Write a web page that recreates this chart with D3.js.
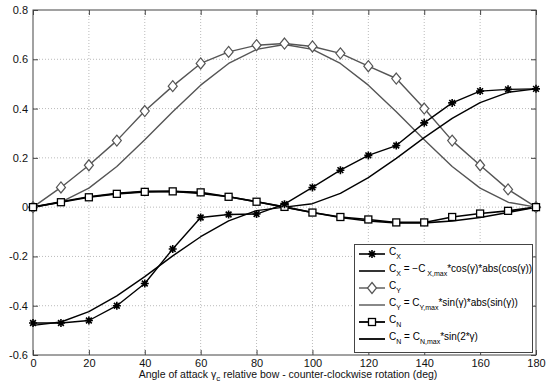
<!DOCTYPE html>
<html>
<head>
<meta charset="utf-8">
<script src="https://cdn.jsdelivr.net/npm/d3@7"></script>
<style>
  body { margin: 0; background: #fff; }
  text { font-family: "Liberation Sans", Arial, sans-serif; fill: #111; }
</style>
</head>
<body>
<div id="chart"></div>
<script>
var angles = [0, 10, 20, 30, 40, 50, 60, 70, 80, 90, 100, 110, 120, 130, 140, 150, 160, 170, 180];

var cx_meas = [-0.47, -0.47, -0.46, -0.40, -0.31, -0.17, -0.042, -0.03, -0.028, 0.012, 0.08, 0.15, 0.21, 0.25, 0.342, 0.423, 0.471, 0.478, 0.48];
var cx_fit  = [-0.48, -0.466, -0.424, -0.36, -0.282, -0.198, -0.12, -0.056, -0.014, 0, 0.014, 0.056, 0.12, 0.198, 0.282, 0.36, 0.424, 0.466, 0.48];
var cy_meas = [0, 0.08, 0.17, 0.27, 0.39, 0.491, 0.583, 0.63, 0.657, 0.664, 0.652, 0.624, 0.572, 0.522, 0.40, 0.27, 0.17, 0.072, 0];
var cy_fit  = [0, 0.02, 0.077, 0.165, 0.273, 0.387, 0.495, 0.583, 0.64, 0.66, 0.64, 0.583, 0.495, 0.387, 0.273, 0.165, 0.077, 0.02, 0];
var cn_meas = [0, 0.02, 0.04, 0.054, 0.062, 0.064, 0.06, 0.042, 0.022, 0.001, -0.022, -0.04, -0.05, -0.062, -0.062, -0.04, -0.026, -0.015, 0];
var cn_fit  = [0, 0.022, 0.042, 0.056, 0.064, 0.064, 0.056, 0.042, 0.022, 0, -0.022, -0.042, -0.056, -0.064, -0.064, -0.056, -0.042, -0.022, 0];

var xTicks = [0, 20, 40, 60, 80, 100, 120, 140, 160, 180];
var yTicks = [-0.6, -0.4, -0.2, 0, 0.2, 0.4, 0.6, 0.8];

var width = 550, height = 388;

var svg = d3.select("#chart").append("svg")
    .attr("width", width)
    .attr("height", height);

var x = d3.scaleLinear().domain([0, 180]).range([33, 536]);
var y = d3.scaleLinear().domain([-0.6, 0.8]).range([355, 10]);

// grid
svg.append("g").selectAll("line.vg")
    .data(xTicks.slice(1, -1))
    .enter().append("line")
      .attr("x1", function(d) { return x(d); })
      .attr("x2", function(d) { return x(d); })
      .attr("y1", y(0.8))
      .attr("y2", y(-0.6))
      .style("stroke", "#bbb")
      .style("stroke-dasharray", "1,2");

svg.append("g").selectAll("line.hg")
    .data(yTicks.slice(1, -1))
    .enter().append("line")
      .attr("x1", x(0))
      .attr("x2", x(180))
      .attr("y1", function(d) { return y(d); })
      .attr("y2", function(d) { return y(d); })
      .style("stroke", "#bbb")
      .style("stroke-dasharray", "1,2");

// axes (ticks inward on all four sides)
var axisColor = "#444";
function styleAxis(g) {
  g.select(".domain").remove();
  g.selectAll(".tick line").style("stroke", axisColor);
  g.selectAll(".tick text").style("font-family", "Liberation Sans, Arial, sans-serif").style("font-size", "11px").style("fill", "#111");
}

svg.append("g")
    .attr("transform", "translate(0," + y(-0.6) + ")")
    .call(d3.axisBottom(x).tickValues(xTicks).tickSize(-5).tickPadding(4).tickFormat(d3.format("d")))
    .call(styleAxis);

svg.append("g")
    .attr("transform", "translate(0," + y(0.8) + ")")
    .call(d3.axisTop(x).tickValues(xTicks).tickSize(-5).tickFormat(""))
    .call(styleAxis);

svg.append("g")
    .attr("transform", "translate(" + x(0) + ",0)")
    .call(d3.axisLeft(y).tickValues(yTicks).tickSize(-5).tickPadding(5).tickFormat(function(d) { return d === 0 ? "0" : d3.format(".1f")(d).replace("\u2212", "-"); }))
    .call(styleAxis);

svg.append("g")
    .attr("transform", "translate(" + x(180) + ",0)")
    .call(d3.axisRight(y).tickValues(yTicks).tickSize(-5).tickFormat(""))
    .call(styleAxis);

svg.append("rect")
    .attr("x", x(0))
    .attr("y", y(0.8))
    .attr("width", x(180) - x(0))
    .attr("height", y(-0.6) - y(0.8))
    .style("fill", "none")
    .style("stroke", axisColor)
    .style("stroke-width", 1);

// x label
var xl = svg.append("text")
    .attr("x", 288)
    .attr("y", 378)
    .attr("text-anchor", "middle")
    .style("font-size", "10.5px");
xl.append("tspan").text("Angle of attack \u03b3");
xl.append("tspan").attr("dy", 3).style("font-size", "8px").text("c");
xl.append("tspan").attr("dy", -3).text(" relative bow - counter-clockwise rotation (deg)");

// series
var series = [
  { values: cy_fit,  color: "#555", width: 1.4, marker: null },
  { values: cy_meas, color: "#555", width: 1.4, marker: "diamond" },
  { values: cn_fit,  color: "#000", width: 1.6, marker: null },
  { values: cn_meas, color: "#000", width: 1.6, marker: "square" },
  { values: cx_fit,  color: "#000", width: 1.4, marker: null },
  { values: cx_meas, color: "#000", width: 1.4, marker: "star" }
];

var line = d3.line()
    .x(function(d, i) { return x(angles[i]); })
    .y(function(d) { return y(d); });

function drawMarker(g, type, cx, cy, color) {
  if (type === "diamond") {
    g.append("path")
      .attr("d", "M" + cx + "," + (cy - 5.5) + "L" + (cx + 4.5) + "," + cy + "L" + cx + "," + (cy + 5.5) + "L" + (cx - 4.5) + "," + cy + "Z")
      .style("fill", "#fff").style("stroke", color).style("stroke-width", 1.2);
  } else if (type === "square") {
    g.append("rect")
      .attr("x", cx - 3.5).attr("y", cy - 3.5).attr("width", 7).attr("height", 7)
      .style("fill", "#fff").style("stroke", color).style("stroke-width", 1.3);
  } else if (type === "star") {
    var r = 4;
    var d = "M" + (cx - r) + "," + cy + "L" + (cx + r) + "," + cy +
            "M" + cx + "," + (cy - r) + "L" + cx + "," + (cy + r) +
            "M" + (cx - r * 0.72) + "," + (cy - r * 0.72) + "L" + (cx + r * 0.72) + "," + (cy + r * 0.72) +
            "M" + (cx - r * 0.72) + "," + (cy + r * 0.72) + "L" + (cx + r * 0.72) + "," + (cy - r * 0.72);
    g.append("path").attr("d", d).style("fill", "none").style("stroke", color).style("stroke-width", 1.6);
  }
}

series.forEach(function(s) {
  svg.append("path")
      .datum(s.values)
      .attr("d", line)
      .style("fill", "none")
      .style("stroke", s.color)
      .style("stroke-width", s.width)
      .style("stroke-linejoin", "round");
});

series.forEach(function(s) {
  if (!s.marker) return;
  var g = svg.append("g");
  s.values.forEach(function(v, i) {
    drawMarker(g, s.marker, x(angles[i]), y(v), s.color);
  });
});

// legend
var legend = svg.append("g");
legend.append("rect")
    .attr("x", 354.5).attr("y", 244.5)
    .attr("width", 178).attr("height", 108)
    .style("fill", "#fff")
    .style("stroke", "#444")
    .style("stroke-width", 1);

var legendItems = [
  { color: "#000", width: 1.6, marker: "star",    parts: [["C"], ["X", "sub"]] },
  { color: "#000", width: 1.6, marker: null,      parts: [["C"], ["X", "sub"], [" = \u2212C"], [" X,max", "sub"], ["*cos(\u03b3)*abs(cos(\u03b3))", "sup"]] },
  { color: "#555", width: 1.4, marker: "diamond", parts: [["C"], ["Y", "sub"]] },
  { color: "#555", width: 1.4, marker: null,      parts: [["C"], ["Y", "sub"], [" = C"], ["Y,max", "sub"], ["*sin(\u03b3)*abs(sin(\u03b3))", "sup"]] },
  { color: "#000", width: 1.8, marker: "square",  parts: [["C"], ["N", "sub"]] },
  { color: "#000", width: 1.8, marker: null,      parts: [["C"], ["N", "sub"], [" = C"], ["N,max", "sub"], ["*sin(2*\u03b3)", "sup"]] }
];
var rowY = [254, 271, 288, 305, 322, 339];

legendItems.forEach(function(it, i) {
  var ry = rowY[i];
  legend.append("line")
      .attr("x1", 359).attr("x2", 385)
      .attr("y1", ry).attr("y2", ry)
      .style("stroke", it.color)
      .style("stroke-width", it.width);
  if (it.marker) drawMarker(legend, it.marker, 372, ry, it.color);
  var t = legend.append("text")
      .attr("x", 389).attr("y", ry + 1)
      .style("font-size", "10px")
      .style("fill", "#000");
  var level = 0;
  it.parts.forEach(function(p) {
    var target = p[1] === "sub" ? 4 : 0;
    var ts = t.append("tspan").text(p[0]);
    if (target !== level) { ts.attr("dy", target - level); level = target; }
    if (p[1] === "sub") ts.style("font-size", "7px");
  });
});
</script>
</body>
</html>
